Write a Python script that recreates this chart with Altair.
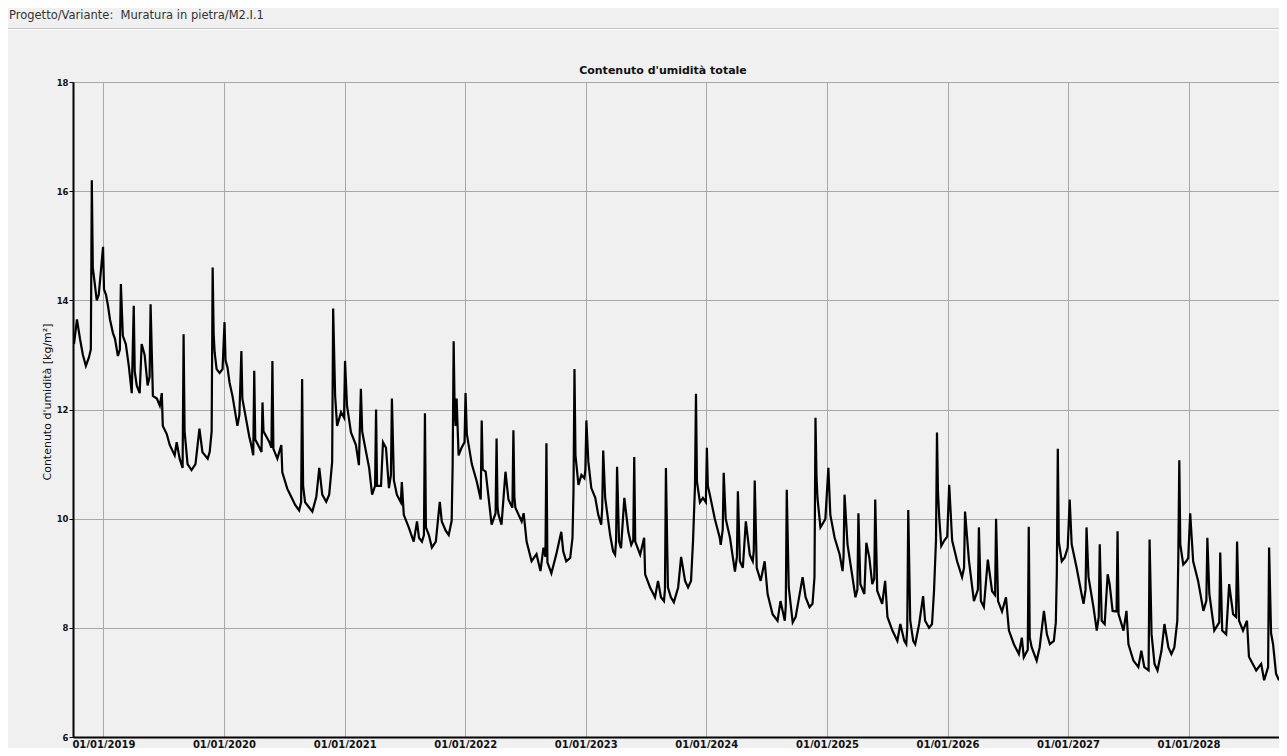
import altair as alt
import pandas as pd

START = "2018-10-01"
HEADER = "Progetto/Variante:\u00a0\u00a0Muratura in pietra/M2.I.1"
TITLE = "Contenuto d'umidità totale"
Y_TITLE = "Contenuto d'umidità [kg/m²]"
Y_TICKS = [6, 8, 10, 12, 14, 16, 18]
X_TICK_YEARS = list(range(2019, 2029))

# days since 2018-10-01 and total moisture content [kg/m²]
seg1_days = [3, 12, 21, 30, 39, 48, 54, 57, 60, 66, 72, 78, 91, 94, 100, 106, 112, 121, 127, 136,
             142, 145, 151, 160, 169, 178, 184, 187, 193, 202, 208, 217, 226, 232, 235, 242, 254, 263,
             269, 272, 284, 293, 308, 314, 323, 332, 335, 338, 347, 359, 371, 383, 392, 408, 414, 420]
seg1_vals = [13.2, 13.65, 13.3, 13.0, 12.8, 12.95, 13.1, 16.2, 14.6, 14.3, 14.0, 14.1, 14.98, 14.2,
             14.1, 13.9, 13.65, 13.4, 13.3, 12.98, 13.1, 14.3, 13.35, 13.2, 12.8, 12.3, 13.9, 12.7,
             12.44, 12.3, 13.2, 13.0, 12.44, 12.6, 13.93, 12.25, 12.2, 12.07, 12.3, 11.7, 11.55, 11.35,
             11.16, 11.4, 11.1, 10.93, 13.38, 11.6, 11.0, 10.89, 11.0, 11.65, 11.22, 11.1, 11.22, 11.6]

seg2_days = [423, 426, 429, 435, 444, 453, 459, 462, 468, 474, 483, 498, 504, 510, 513, 525, 534, 540,
             546, 549, 552, 565, 571, 574, 577, 586, 595, 601, 604, 607, 619, 631, 634, 649, 661, 673,
             685, 691, 694, 697, 703, 716, 725, 737, 746, 755, 767, 776, 785]
seg2_vals = [14.6, 13.4, 13.05, 12.74, 12.67, 12.74, 13.6, 12.9, 12.77, 12.5, 12.25, 11.7, 11.9, 13.07,
             12.2, 11.8, 11.5, 11.35, 11.16, 12.71, 11.45, 11.3, 11.22, 12.13, 11.6, 11.5, 11.4, 11.3,
             12.89, 11.28, 11.1, 11.35, 10.85, 10.55, 10.4, 10.25, 10.15, 10.3, 12.56, 10.6, 10.3,
             10.2, 10.13, 10.4, 10.93, 10.44, 10.31, 10.44, 11.04]

seg3_days = [788, 794, 800, 812, 821, 824, 830, 842, 857, 866, 872, 876, 882, 897, 906, 915, 918, 921,
             933, 939, 948, 957, 963, 966, 972, 981, 993, 996, 1002, 1017, 1032, 1042, 1048, 1057,
             1063, 1066, 1069, 1078, 1087, 1099, 1111, 1117, 1129, 1138, 1147, 1150, 1153, 1156, 1159,
             1162, 1168, 1177, 1186, 1189, 1193, 1208, 1223, 1235, 1238, 1241, 1250, 1268, 1280, 1283,
             1286, 1289, 1298, 1310, 1319, 1331, 1334, 1337, 1340, 1359, 1365, 1374, 1389, 1404, 1416,
             1425, 1431, 1434, 1437, 1449, 1464, 1479, 1485, 1494, 1506, 1513]
seg3_vals = [13.85, 12.25, 11.7, 11.95, 11.85, 12.89, 12.07, 11.58, 11.35, 10.98, 12.38, 11.6, 11.4,
             10.93, 10.44, 10.6, 12.0, 10.6, 10.6, 11.4, 11.3, 10.56, 10.8, 12.2, 10.7, 10.44, 10.3,
             10.67, 10.07, 9.84, 9.58, 9.95, 9.65, 9.58, 9.7, 11.93, 9.84, 9.7, 9.47, 9.58, 10.31,
             9.95, 9.78, 9.7, 9.96, 11.0, 13.25, 12.0, 11.7, 12.2, 11.16, 11.3, 11.4, 12.3, 11.55, 11.0,
             10.68, 10.35, 11.8, 10.9, 10.86, 9.89, 10.1, 11.47, 10.2, 10.07, 9.89, 10.86, 10.35, 10.2,
             11.62, 10.4, 10.2, 9.95, 10.1, 9.58, 9.22, 9.35, 9.04, 9.47, 9.3, 11.38, 9.2, 9.0, 9.35,
             9.76, 9.4, 9.22, 9.28, 9.65]

seg4_days = [1516, 1519, 1522, 1531, 1540, 1549, 1552, 1555, 1561, 1570, 1582, 1591, 1600, 1603, 1606,
             1612, 1627, 1636, 1642, 1645, 1648, 1654, 1660, 1670, 1682, 1691, 1697, 1700, 1703, 1718,
             1730, 1733, 1748, 1763, 1772, 1781, 1790, 1793, 1796, 1802, 1811, 1820, 1833, 1842, 1854,
             1863, 1872, 1878, 1884, 1887, 1890, 1899, 1908, 1917, 1920, 1923, 1929, 1944, 1959, 1962,
             1968, 1971, 1977, 1990, 2005, 2011, 2014, 2020, 2029, 2038, 2050, 2059, 2062, 2065, 2071,
             2083, 2095, 2104, 2119, 2134, 2143, 2156, 2159, 2162, 2168, 2180, 2189, 2210, 2219, 2231,
             2240, 2246]
seg4_vals = [10.5, 12.74, 11.16, 10.62, 10.8, 10.74, 10.9, 11.8, 11.04, 10.56, 10.38, 10.07, 9.89,
             10.2, 11.25, 10.38, 9.7, 9.4, 9.34, 9.6, 10.95, 9.58, 9.46, 10.38, 9.76, 9.52, 9.6, 11.13,
             9.58, 9.34, 9.65, 8.98, 8.74, 8.56, 8.86, 8.56, 8.49, 8.7, 10.93, 8.74, 8.56, 8.47, 8.74,
             9.3, 8.86, 8.74, 8.86, 9.58, 10.6, 12.29, 10.68, 10.3, 10.38, 10.3, 11.3, 10.6, 10.44, 10.0,
             9.65, 9.52, 9.8, 10.84, 10.0, 9.65, 9.03, 9.3, 10.5, 9.22, 9.1, 9.95, 9.34, 9.22, 9.4, 10.7,
             9.1, 8.86, 9.22, 8.62, 8.25, 8.13, 8.49, 8.13, 8.4, 10.53, 8.74, 8.1, 8.2, 8.93, 8.56, 8.38,
             8.44, 8.93]

seg5_days = [2249, 2252, 2255, 2264, 2276, 2279, 2288, 2294, 2307, 2322, 2331, 2334, 2337, 2346, 2361,
             2370, 2376, 2379, 2385, 2397, 2403, 2412, 2421, 2427, 2430, 2436, 2451, 2460, 2467, 2482,
             2497, 2506, 2518, 2524, 2527, 2530, 2536, 2545, 2551, 2563, 2575, 2581, 2593, 2602, 2608,
             2614, 2617, 2620, 2624, 2630, 2639, 2648, 2654, 2663, 2678, 2693, 2699, 2702, 2714, 2729,
             2741, 2744, 2750, 2759, 2771, 2784, 2793, 2796, 2802, 2814, 2826, 2835, 2850, 2865, 2874,
             2880, 2892, 2895, 2898, 2904, 2919, 2928, 2941, 2950, 2959, 2971, 2977]
seg5_vals = [11.85, 10.8, 10.38, 9.84, 9.96, 10.0, 10.93, 10.07, 9.65, 9.35, 9.04, 9.3, 10.44, 9.53,
             8.93, 8.56, 8.7, 10.1, 8.8, 8.62, 9.56, 9.29, 8.8, 8.9, 10.35, 8.68, 8.44, 8.86, 8.2, 7.95,
             7.76, 8.07, 7.76, 7.7, 8.0, 10.16, 8.13, 7.76, 7.7, 8.07, 8.58, 8.13, 8.0, 8.07, 8.67, 9.6,
             11.58, 10.5, 10.0, 9.5, 9.6, 9.67, 10.62, 9.6, 9.22, 8.93, 9.1, 10.13, 9.22, 8.49, 8.7,
             9.84, 8.49, 8.38, 9.25, 8.67, 8.6, 10.0, 8.49, 8.3, 8.56, 7.95, 7.7, 7.52, 7.82, 7.46, 7.6,
             9.85, 7.82, 7.64, 7.4, 7.64, 8.31, 7.88, 7.7, 7.76, 8.1]

seg6_days = [2980, 2983, 2986, 2995, 3004, 3013, 3019, 3025, 3040, 3055, 3061, 3067, 3070, 3076, 3091,
             3101, 3107, 3110, 3116, 3125, 3134, 3140, 3149, 3161, 3164, 3167, 3182, 3191, 3197, 3212,
             3227, 3236, 3245, 3258, 3261, 3267, 3276, 3285, 3297, 3306, 3318, 3327, 3336, 3345, 3348,
             3351, 3354, 3363, 3372, 3378, 3384, 3393, 3408, 3424, 3433, 3436, 3442, 3457, 3472, 3475,
             3481, 3493, 3502, 3514, 3523, 3526, 3532, 3544, 3556, 3562, 3584, 3599, 3608, 3620, 3623,
             3629, 3635, 3644, 3653]
seg6_vals = [9.0, 11.28, 9.58, 9.22, 9.29, 9.47, 10.35, 9.53, 9.1, 8.62, 8.44, 8.7, 9.84, 8.93, 8.38,
             7.95, 8.2, 9.53, 8.13, 8.07, 8.98, 8.8, 8.31, 8.3, 9.77, 8.25, 7.95, 8.31, 7.7, 7.4, 7.28,
             7.58, 7.28, 7.22, 9.62, 7.88, 7.34, 7.22, 7.58, 8.07, 7.64, 7.52, 7.64, 8.13, 9.3, 11.07,
             9.53, 9.16, 9.22, 9.28, 10.1, 9.22, 8.86, 8.31, 8.5, 9.65, 8.62, 7.95, 8.1, 9.38, 7.95,
             7.88, 8.8, 8.25, 8.2, 9.58, 8.13, 7.95, 8.13, 7.47, 7.22, 7.34, 7.04, 7.28, 9.47, 7.9, 7.7,
             7.16, 7.04]

days = seg1_days + seg2_days + seg3_days + seg4_days + seg5_days + seg6_days
vals = seg1_vals + seg2_vals + seg3_vals + seg4_vals + seg5_vals + seg6_vals
df = pd.DataFrame({
    "date": pd.Timestamp(START) + pd.to_timedelta(days, unit="D"),
    "value": vals,
})

FONT = "DejaVu Sans"
GRID = "#a8a8a8"
PW, PH = 1206, 655

line = alt.Chart(df).mark_line(color="black", strokeWidth=2.2, strokeJoin="miter").encode(
    x=alt.X(
        "date:T",
        scale=alt.Scale(domain=[alt.DateTime(year=2018, month=10, date=1),
                                alt.DateTime(year=2028, month=10, date=1)]),
        axis=alt.Axis(
            values=[alt.DateTime(year=y, month=1, date=1) for y in X_TICK_YEARS],
            format="%d/%m/%Y", title=None, ticks=False, labelPadding=2,
            labelFont=FONT, labelFontSize=10, labelFontWeight="bold", labelColor="#111111",
            domainColor="black", domainWidth=2, gridColor=GRID, gridWidth=1, gridOpacity=1,
        ),
    ),
    y=alt.Y(
        "value:Q",
        scale=alt.Scale(domain=[6, 18], nice=False, zero=False),
        axis=alt.Axis(
            values=Y_TICKS, title=Y_TITLE, titleFont=FONT, titleFontSize=11,
            titleFontWeight="normal", titleColor="#111111", titleAngle=270,
            titleX=-26, titleY=PH / 2 - 8, titleAlign="center", titleBaseline="middle",
            tickSize=4, tickColor="black", labelPadding=1,
            labelFont=FONT, labelFontSize=8.5, labelFontWeight="bold", labelColor="#111111",
            domainColor="black", domainWidth=2, gridColor=GRID, gridWidth=1, gridOpacity=1,
        ),
    ),
)

header = alt.Chart(pd.DataFrame({"t": [HEADER]})).mark_text(
    align="left", baseline="middle", font=FONT, fontSize=11.5, color="#333333"
).encode(x=alt.value(-64), y=alt.value(-66), text="t:N")

title = alt.Chart(pd.DataFrame({"t": [TITLE]})).mark_text(
    align="center", baseline="middle", font=FONT, fontSize=11, fontWeight="bold", color="#111111"
).encode(x=alt.value(590), y=alt.value(-11), text="t:N")

sep1 = alt.Chart(pd.DataFrame({"a": [0]})).mark_rule(color="#c4c4c4", strokeWidth=1).encode(
    x=alt.value(-65), x2=alt.value(PW), y=alt.value(-53.5))
sep2 = alt.Chart(pd.DataFrame({"a": [0]})).mark_rule(color="#ffffff", strokeWidth=1).encode(
    x=alt.value(-65), x2=alt.value(PW), y=alt.value(-52.5))

chart = alt.layer(sep1, sep2, header, title, line).properties(
    width=PW, height=PH,
    padding={"left": 65, "top": 74, "right": 0, "bottom": 11},
    autosize=alt.AutoSizeParams(type="none"),
    background="#f0f0f0",
).configure_view(stroke=GRID, strokeWidth=1)

chart.save("out.html", embed_options={"renderer": "svg", "actions": False})
